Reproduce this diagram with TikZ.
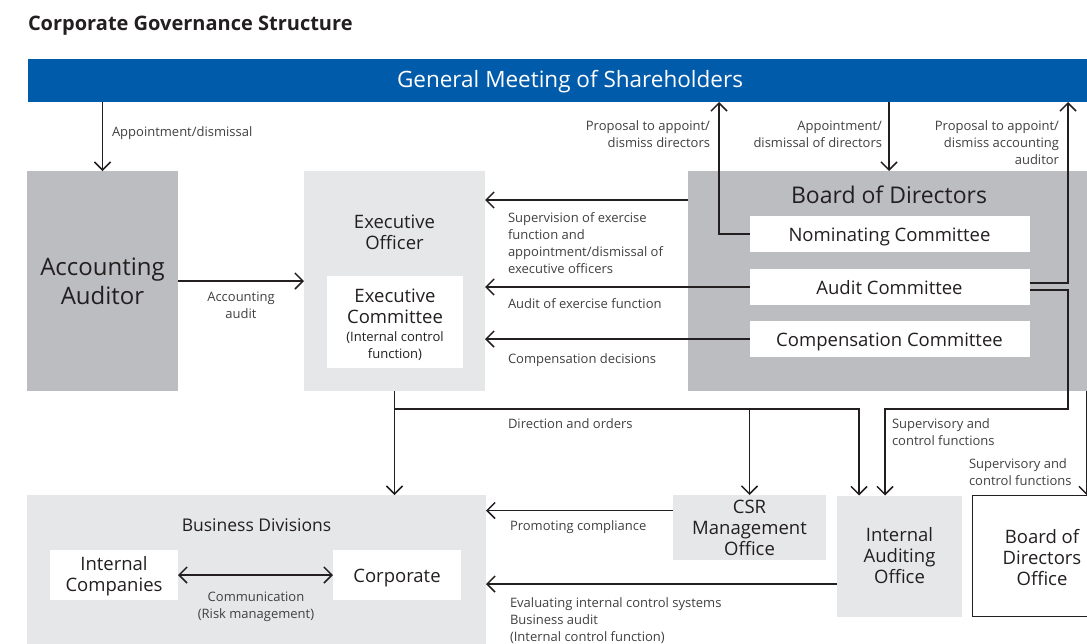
\documentclass[tikz,border=0pt]{standalone}
\usepackage{fontspec}
\setmainfont{Open Sans}
\usetikzlibrary{arrows.meta, positioning, calc}
\definecolor{gmblue}{RGB}{0,91,170}
\definecolor{boxdark}{RGB}{188,189,192}
\definecolor{boxlight}{RGB}{230,231,232}
\definecolor{ink}{RGB}{35,31,32}
\definecolor{lblink}{RGB}{64,64,64}
\newcommand{\fsz}[2]{\fontsize{#1}{#2}\selectfont}
\tikzset{
  govchart/.style={
	x=1pt, y=-1pt, % one unit per pixel, y runs downwards
	line width=1.5pt, % all the connectors
	>={Straight Barb[length=8pt,width=16pt]}, % open arrow heads
	every node/.style={inner sep=0pt, outer sep=0pt, text=ink},
  },
  darkbox/.style={fill=boxdark, align=center, font=\fsz{18.5}{21}},
  lightbox/.style={fill=boxlight, align=center, font=\fsz{18.5}{21}},
  whitebox/.style={fill=white, align=center, font=\fsz{18.5}{21}},
  cmtbox/.style={whitebox, minimum width=280pt, minimum height=36pt, text height=17pt, text depth=2pt}, % one line committees
  lbl/.style={font=\fsz{13}{17}, text=lblink}, % connector labels
  flow/.style={->, draw=ink},
}

\begin{document}
\begin{tikzpicture}[govchart]
\useasboundingbox (0,0) rectangle (1087,643);
\node[anchor=base west, font=\bfseries\fsz{20}{24}] (title) at (28,30) {Corporate Governance Structure};
\node[fill=gmblue, text=white, minimum width=1084pt, minimum height=43pt, text height=17.5pt, text depth=3pt, font=\fsz{22.5}{26}] (gm) at (570,80.5) {General Meeting of Shareholders};

% upper row
\node[darkbox, minimum width=151pt, minimum height=220pt, font=\fsz{24}{29}] (aa) at (102.5,281) {Accounting\\Auditor};
\node[lightbox, minimum width=181pt, minimum height=220pt] (eo) at (394.5,281) {};
\node[font=\fsz{18.5}{21}, align=center] (eotitle) at (394.5,232) {Executive\\Officer};
\node[whitebox, minimum width=136pt, minimum height=92pt] (ec) at (395,322) {\rule{0pt}{20pt}Executive\\Committee\\[-3pt]\fsz{13}{16}(Internal control\\[-4pt]\fsz{13}{16}function)};
\node[darkbox, minimum width=402pt, minimum height=220pt] (bod) at (889,281) {};
\node[font=\fsz{23}{27}] (bodtitle) at (889,195) {Board of Directors};
\node[cmtbox] (nom) at (889.5,234) {Nominating Committee};
\node[cmtbox, below=17pt of nom] (aud) {Audit Committee};
\node[cmtbox, below=16pt of aud] (comp) {Compensation Committee};

% lower row
\node[lightbox, minimum width=459pt, minimum height=165pt] (bd) at (256.5,577.5) {};
\node[font=\fsz{17.5}{21}] (bdtitle) at (256.5,525) {Business Divisions};
\node[whitebox, minimum width=128pt, minimum height=50pt] (ic) at (114,575) {\rule{0pt}{17pt}Internal\\Companies};
\node[whitebox, minimum width=128pt, minimum height=50pt, text height=17pt, text depth=2pt] (corp) at (397,575) {Corporate};
\node[lightbox, minimum width=153pt, minimum height=65pt] (csr) at (749.5,527.5) {CSR\\Management\\Office};
\node[lightbox, minimum width=125pt, minimum height=121pt] (iao) at (899.5,556) {Internal\\Auditing\\Office};
\node[whitebox, draw=ink, line width=1pt, minimum width=140pt, minimum height=121pt] (bdo) at (1042,556) {\rule{0pt}{18pt}Board of\\Directors\\Office};

\coordinate (nomup) at (719,0);
\coordinate (audup) at (1068,0);
\coordinate (sv) at (1068,409);
\coordinate (split) at (eo.south |- sv);
\coordinate (farright) at (1087,0);
\coordinate (supv) at ([yshift=-29pt]bod.north west);
\coordinate (cmp) at ([yshift=17pt]csr.west);
\coordinate (eval) at ([yshift=-28pt]iao.west);

\draw[flow] (gm.south -| aa.north) -- (aa.north);
\draw[flow] (aa.east) -- (eo.west);
\draw[flow] (gm.south -| bod.north) -- (bod.north);
\draw[flow] (nom.west) -| (nomup |- gm.south);
\draw[flow] ([yshift=4pt]aud.east) -| (audup |- gm.south);
\draw[flow] ([yshift=-3pt]aud.east) -| (sv) -| ([xshift=-14.5pt]iao.north);
\draw[flow] (supv) -- (supv -| eo.east);
\draw[flow] (aud.west) -- (aud.west -| eo.east);
\draw[flow] (comp.west) -- (comp.west -| eo.east);
\draw[flow] (eo.south) -- (eo.south |- bd.north);
\draw[flow] (split) -| (csr.north);
\draw[flow] (split) -| ([xshift=-40.5pt]iao.north);
\draw[flow] (cmp) -- (cmp -| bd.east);
\draw[flow] (eval) -- (eval -| bd.east);
\draw[<->, draw=ink] (ic.east) -- (corp.west);
\draw[flow] (farright |- bod.south) -- (farright |- bdo.north);

% labels
\node[lbl, anchor=north west] (lappaa) at (112,127) {Appointment/dismissal};
\node[lbl, anchor=north east, align=right] (lpropdir) at (710,121) {Proposal to appoint/\\dismiss directors};
\node[lbl, anchor=north east, align=right] (lappdir) at (882,121) {Appointment/\\dismissal of directors};
\node[lbl, anchor=north east, align=right] (lpropaa) at (1059,121) {Proposal to appoint/\\dismiss accounting\\auditor};
\node[lbl, anchor=north, align=center] (laudit) at (241,292) {Accounting\\audit};
\node[lbl, anchor=north west, align=left] (lsuper) at (508,213) {Supervision of exercise\\function and\\appointment/dismissal of\\executive officers};
\node[lbl, anchor=north west] (lexer) at (508,299) {Audit of exercise function};
\node[lbl, anchor=north west] (lcomp) at (508,354) {Compensation decisions};
\node[lbl, anchor=north west] (ldir) at (508,419) {Direction and orders};
\node[lbl, anchor=north west, align=left] (lctrl) at (892,419) {Supervisory and\\control functions};
\node[lbl, anchor=north west, align=left] (lctrlb) at (969,459) {Supervisory and\\control functions};
\node[lbl, anchor=north west] (lcompl) at (510,521) {Promoting compliance};
\node[lbl, anchor=north west, align=left] (leval) at (510,598) {Evaluating internal control systems\\Business audit\\(Internal control function)};
\node[lbl, anchor=north, align=center] (lcomm) at (256,592) {Communication\\(Risk management)};
\end{tikzpicture}
\end{document}
